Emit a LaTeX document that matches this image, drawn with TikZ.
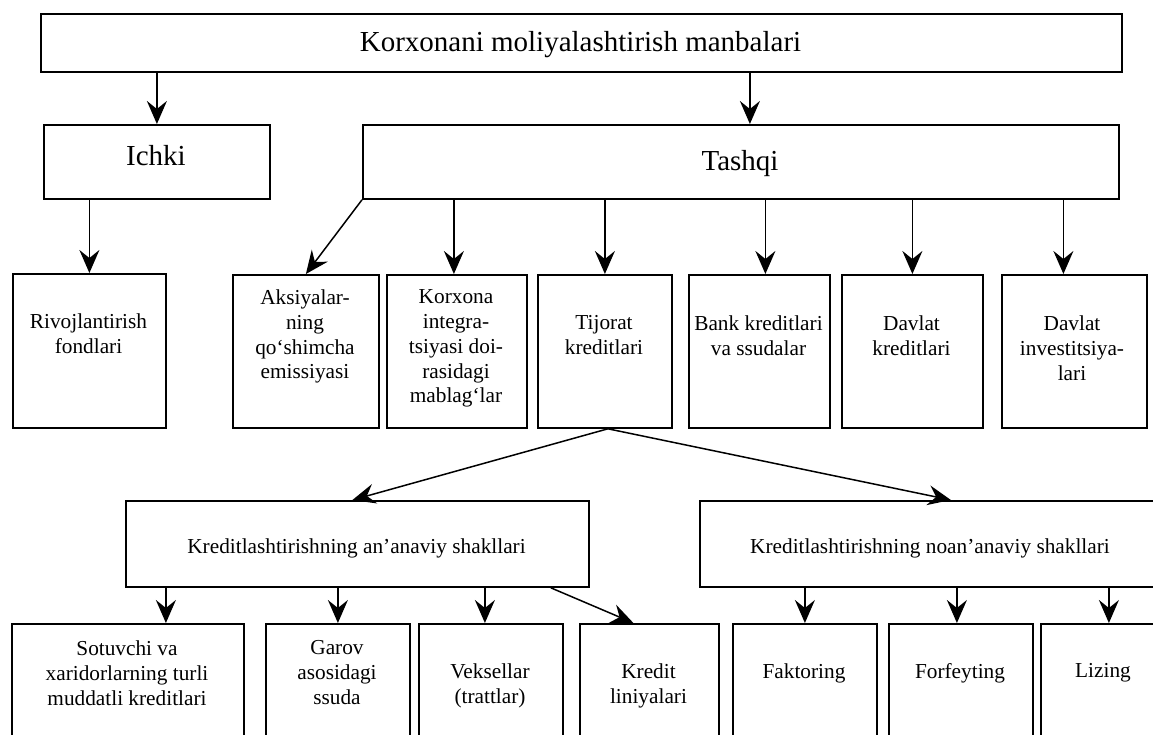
\documentclass[tikz,border=0pt]{standalone}
\usepackage{fontspec}
\setmainfont{Liberation Serif}
\usetikzlibrary{arrows.meta}
\begin{document}
\begin{tikzpicture}[x=1pt,y=-1pt,
  box/.style={draw,line width=1.8pt,inner sep=0pt,anchor=north west},
  big/.style={font=\fontsize{29}{33}\selectfont,inner sep=0pt,anchor=base},
  txt/.style={font=\fontsize{21.3}{24.8}\selectfont,align=center,inner sep=0pt,anchor=north},
  one/.style={font=\fontsize{21.3}{24.8}\selectfont,inner sep=0pt,anchor=base},
  arr/.style={line width=1.5pt,-{Stealth[length=23pt,width=20pt,inset=8pt]}}]
\useasboundingbox (0,0) rectangle (1153,735);

% boxes
\node[box,minimum width=1081pt,minimum height=58pt] (top) at (40,13) {};
\node[box,minimum width=226pt,minimum height=74pt] (ichki) at (43,124) {};
\node[box,minimum width=756pt,minimum height=74pt] (tashqi) at (362,124) {};
\node[box,minimum width=153pt,minimum height=154pt] (riv) at (12,273) {};
\node[box,minimum width=146pt,minimum height=153pt] (aks) at (232,274) {};
\node[box,minimum width=140pt,minimum height=153pt] (kor) at (386,274) {};
\node[box,minimum width=134pt,minimum height=153pt] (tij) at (537,274) {};
\node[box,minimum width=141pt,minimum height=153pt] (bank) at (688,274) {};
\node[box,minimum width=141pt,minimum height=153pt] (dk) at (841,274) {};
\node[box,minimum width=145pt,minimum height=153pt] (di) at (1001,274) {};
\node[box,minimum width=463pt,minimum height=86pt] (ana) at (125,500) {};
\node[box,minimum width=462pt,minimum height=86pt] (noan) at (699,500) {};
\node[box,minimum width=232pt,minimum height=160pt] (sot) at (11,623) {};
\node[box,minimum width=144pt,minimum height=160pt] (gar) at (265,623) {};
\node[box,minimum width=144pt,minimum height=160pt] (vek) at (418,623) {};
\node[box,minimum width=139pt,minimum height=160pt] (kre) at (579,623) {};
\node[box,minimum width=144pt,minimum height=160pt] (fak) at (732,623) {};
\node[box,minimum width=144pt,minimum height=160pt] (forf) at (888,623) {};
\node[box,minimum width=130pt,minimum height=160pt] (liz) at (1040,623) {};

% texts
\node[big] (ttop) at (580.5,52) {Korxonani moliyalashtirish manbalari};
\node[big] (tichki) at (156,166) {Ichki};
\node[big] (ttashqi) at (740,171) {Tashqi};
\node[txt] (triv) at (88.5,313.5) {Rivojlantirish\\fondlari};
\node[txt] (taks) at (305,289.5) {Aksiyalar-\\ning\\qo‘shimcha\\emissiyasi};
\node[txt] (tkor) at (456,289.5) {Korxona\\integra-\\tsiyasi doi-\\rasidagi\\mablag‘lar};
\node[txt] (ttij) at (604,315.5) {Tijorat\\kreditlari};
\node[txt] (tbank) at (758.5,315.5) {Bank kreditlari\\va ssudalar};
\node[txt] (tdk) at (911.5,315.5) {Davlat\\kreditlari};
\node[txt] (tdi) at (1072,315.5) {Davlat\\investitsiya-\\lari};
\node[one] (tana) at (356.5,553) {Kreditlashtirishning an’anaviy shakllari};
\node[one] (tnoan) at (930,553) {Kreditlashtirishning noan’anaviy shakllari};
\node[txt] (tsot) at (127,640.5) {Sotuvchi va\\xaridorlarning turli\\muddatli kreditlari};
\node[txt] (tgar) at (337,640.5) {Garov\\asosidagi\\ssuda};
\node[txt] (tvek) at (490,663.5) {Veksellar\\(trattlar)};
\node[txt] (tkre) at (648.5,663.5) {Kredit\\liniyalari};
\node[txt] (tfak) at (804,663.5) {Faktoring};
\node[txt] (tforf) at (960,663.5) {Forfeyting};
\node[txt] (tliz) at (1103,663.5) {Lizing};

% connectors
\draw[arr] (top.south -| ichki.north) -- (ichki.north);
\draw[arr] ([xshift=9pt]top.south -| tashqi.north) -- ([xshift=9pt]tashqi.north);
\draw[arr] (ichki.south -| riv.north) -- (riv.north);
\draw[arr] (tashqi.south west) -- (aks.north);
\draw[arr] ([xshift=-3pt]tashqi.south -| kor.north) -- ([xshift=-3pt]kor.north);
\draw[arr] (tashqi.south -| tij.north) -- (tij.north);
\draw[arr] ([xshift=6pt]tashqi.south -| bank.north) -- ([xshift=6pt]bank.north);
\draw[arr] (tashqi.south -| dk.north) -- (dk.north);
\draw[arr] ([xshift=-11pt]tashqi.south -| di.north) -- ([xshift=-11pt]di.north);
\draw[arr] ([xshift=3pt]tij.south) -- ([xshift=-5pt]ana.north);
\draw[arr] ([xshift=3pt]tij.south) -- ([xshift=20pt]noan.north);
\draw[arr] ([xshift=38pt]ana.south -| sot.north) -- ([xshift=38pt]sot.north);
\draw[arr] (ana.south -| gar.north) -- (gar.north);
\draw[arr] ([xshift=-6pt]ana.south -| vek.north) -- ([xshift=-6pt]vek.north);
\draw[arr] ([xshift=-39pt]ana.south east) -- ([xshift=-16pt]kre.north);
\draw[arr] (noan.south -| fak.north) -- (fak.north);
\draw[arr] ([xshift=-4pt]noan.south -| forf.north) -- ([xshift=-4pt]forf.north);
\draw[arr] ([xshift=3pt]noan.south -| liz.north) -- ([xshift=3pt]liz.north);
\end{tikzpicture}
\end{document}
